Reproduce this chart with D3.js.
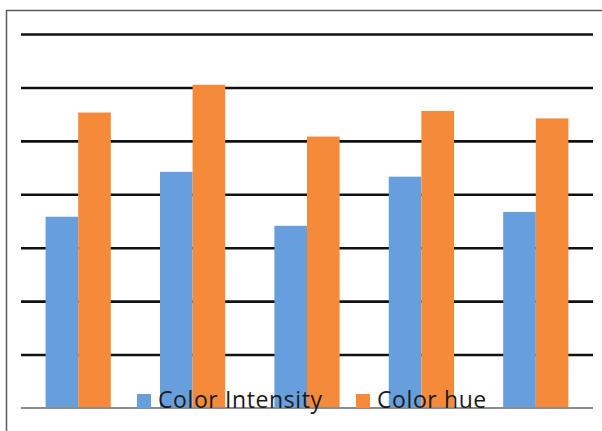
<!DOCTYPE html>
<html>
<head>
<meta charset="utf-8">
<script src="https://cdn.jsdelivr.net/npm/d3@7"></script>
<style>
    body { margin: 0; background: #fff; }
    svg { display: block; font-family: "Open Sans", sans-serif; }
    .grid line { stroke: #111; stroke-width: 2.6px; }
    .grid .domain { display: none; }
    .baseline { stroke: #8c8c8c; stroke-width: 2px; }
    .legend text { font-size: 23px; letter-spacing: 0.6px; fill: #1a1a1a; }
</style>
</head>
<body>
<svg id="chart" width="602" height="431"></svg>
<script>
// data
const categories = ["1", "2", "3", "4", "5"];
const seriesNames = ["Color Intensity", "Color hue"];
const colorIntensity = [35.8, 44.2, 34.1, 43.3, 36.7];
const colorHue = [55.3, 60.5, 50.8, 55.6, 54.2];
const yTicks = [0, 10, 20, 30, 40, 50, 60, 70];

const colors = ["#669fdc", "#f68a3b"];

const margin = {top: 34, right: 9, bottom: 23, left: 21};
const svg = d3.select("#chart");
const width = +svg.attr("width") - margin.left - margin.right;
const height = +svg.attr("height") - margin.top - margin.bottom;

// frame, cut off at the right and bottom like the original
svg.append("rect")
    .attr("x", 6.5).attr("y", 10.5)
    .attr("width", 700).attr("height", 500)
    .attr("fill", "none").attr("stroke", "#5a5a5a").attr("stroke-width", 1.5);

const chart = svg.append("g").attr("transform", "translate(" + margin.left + "," + margin.top + ")");

const x0 = d3.scaleBand().domain(categories).range([0, width]).paddingInner(0.43).paddingOuter(0.215);
const x1 = d3.scaleBand().domain(seriesNames).range([0, x0.bandwidth()]);
const y = d3.scaleLinear().domain([0, 70]).range([height, 0]);

chart.append("g").attr("class", "grid")
    .call(d3.axisLeft(y).tickValues(yTicks.slice(1)).tickSize(-width).tickFormat(""));

const rows = categories.map((c, i) => ({cat: c, vals: [colorIntensity[i], colorHue[i]]}));

chart.selectAll("g.group").data(rows).enter()
    .append("g").attr("class", "group")
    .attr("transform", d => "translate(" + x0(d.cat) + ",0)")
    .selectAll("rect").data(d => d.vals.map((v, j) => ({name: seriesNames[j], v: v, j: j})))
    .enter().append("rect")
        .attr("x", d => x1(d.name))
        .attr("width", x1.bandwidth())
        .attr("y", d => y(d.v))
        .attr("height", d => height - y(d.v))
        .attr("fill", d => colors[d.j]);

chart.append("line").attr("class", "baseline")
    .attr("x1", 0).attr("x2", width)
    .attr("y1", y(0)).attr("y2", y(0));

// legend sits on top of the bars near the baseline
const legend = svg.append("g").attr("class", "legend");
const legendX = [137, 356];
seriesNames.forEach((name, i) => {
    legend.append("rect")
        .attr("x", legendX[i]).attr("y", 394)
        .attr("width", 14).attr("height", 14)
        .attr("fill", colors[i]);
    legend.append("text")
        .attr("x", legendX[i] + 21).attr("y", 408)
        .text(name);
});
</script>
</body>
</html>
